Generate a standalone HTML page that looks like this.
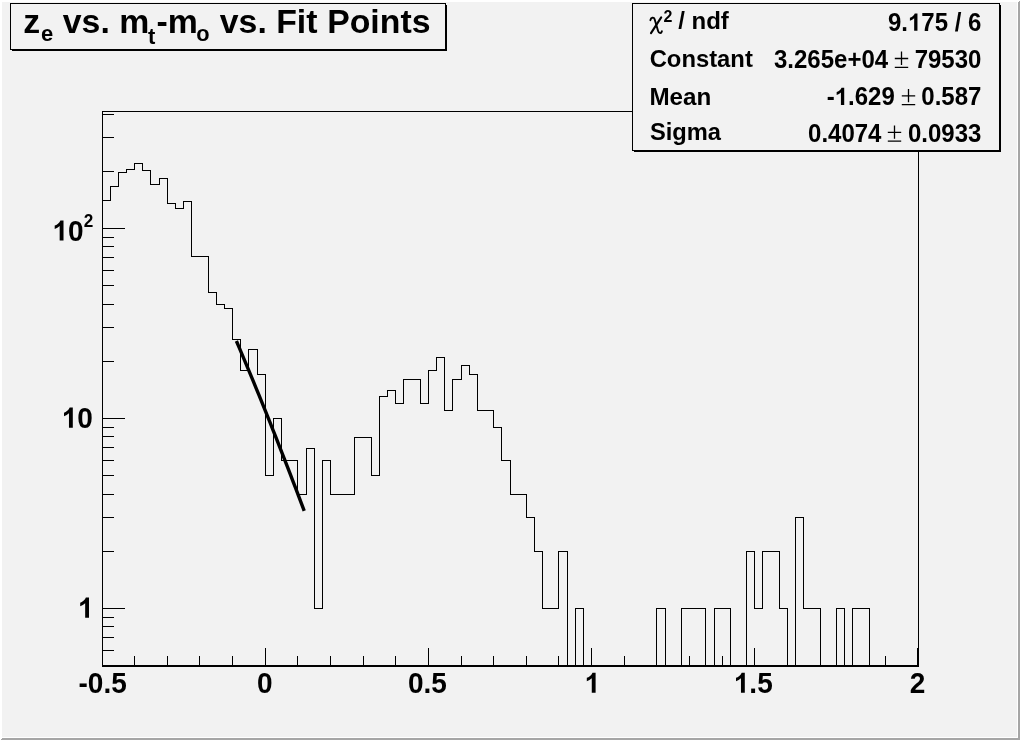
<!DOCTYPE html>
<html><head><meta charset="utf-8"><title>z_e vs. m_t-m_o vs. Fit Points</title>
<style>
html,body{margin:0;padding:0;background:#f2f2f2;overflow:hidden}
svg{display:block;will-change:transform}
text{font-family:"Liberation Sans",sans-serif;font-weight:bold;fill:#000}
</style></head><body>
<svg width="1020" height="740" viewBox="0 0 1020 740">
<rect x="0" y="0" width="1020" height="740" fill="#f2f2f2"/>
<g shape-rendering="crispEdges">
<rect x="0" y="0" width="1020" height="2" fill="#ffffff"/>
<rect x="0" y="0" width="2" height="740" fill="#ffffff"/>
<rect x="2" y="737" width="1016" height="1" fill="#ffffff"/>
<rect x="1017" y="2" width="1" height="736" fill="#ffffff"/>
<polygon points="0,740 2,738 1018,738 1018,2 1020,0 1020,740" fill="#a6a6a6"/>
</g>
<g shape-rendering="crispEdges" fill="none" stroke="#000" stroke-width="1">
<path d="M102.5 666V111.5H918.5V666"/>
<path d="M102 666H919" stroke-width="2"/>
<path d="M102 650.5H114M102 637.5H114M102 626.5H114M102 617.5H114M102 608.5H125M102 551.5H114M102 517.5H114M102 494.5H114M102 475.5H114M102 460.5H114M102 447.5H114M102 436.5H114M102 427.5H114M102 418.5H125M102 361.5H114M102 327.5H114M102 304.5H114M102 285.5H114M102 270.5H114M102 257.5H114M102 246.5H114M102 237.5H114M102 228.5H125M102 171.5H114M102 137.5H114M102 114.5H114M102.5 666V648M134.5 666V656M167.5 666V656M199.5 666V656M232.5 666V656M265.5 666V648M297.5 666V656M330.5 666V656M363.5 666V656M395.5 666V656M428.5 666V648M461.5 666V656M493.5 666V656M526.5 666V656M558.5 666V656M591.5 666V648M624.5 666V656M656.5 666V656M689.5 666V656M722.5 666V656M754.5 666V648M787.5 666V656M820.5 666V656M852.5 666V656M885.5 666V656M917.5 666V648"/>
<path d="M102.5 665.5L102.5 200.5L110.5 200.5L110.5 186.5L118.5 186.5L118.5 172.5L126.5 172.5L126.5 169.5L134.5 169.5L134.5 163.5L142.5 163.5L142.5 170.5L150.5 170.5L150.5 184.5L159.5 184.5L159.5 178.5L167.5 178.5L167.5 203.5L175.5 203.5L175.5 208.5L183.5 208.5L183.5 201.5L191.5 201.5L191.5 256.5L199.5 256.5L208.5 256.5L208.5 292.5L216.5 292.5L216.5 304.5L224.5 304.5L224.5 308.5L232.5 308.5L232.5 339.5L240.5 339.5L240.5 370.5L248.5 370.5L248.5 349.5L257.5 349.5L257.5 374.5L265.5 374.5L265.5 475.5L273.5 475.5L273.5 418.5L281.5 418.5L281.5 460.5L289.5 460.5L297.5 460.5L297.5 494.5L306.5 494.5L306.5 448.5L314.5 448.5L314.5 608.5L322.5 608.5L322.5 460.5L330.5 460.5L330.5 494.5L338.5 494.5L346.5 494.5L354.5 494.5L354.5 437.5L363.5 437.5L371.5 437.5L371.5 475.5L379.5 475.5L379.5 396.5L387.5 396.5L387.5 390.5L395.5 390.5L395.5 403.5L403.5 403.5L403.5 379.5L412.5 379.5L420.5 379.5L420.5 403.5L428.5 403.5L428.5 370.5L436.5 370.5L436.5 357.5L444.5 357.5L444.5 410.5L452.5 410.5L452.5 379.5L461.5 379.5L461.5 365.5L469.5 365.5L469.5 374.5L477.5 374.5L477.5 410.5L485.5 410.5L493.5 410.5L493.5 427.5L501.5 427.5L501.5 460.5L510.5 460.5L510.5 494.5L518.5 494.5L526.5 494.5L526.5 517.5L534.5 517.5L534.5 551.5L542.5 551.5L542.5 608.5L550.5 608.5L558.5 608.5L558.5 551.5L567.5 551.5L567.5 665.5L575.5 665.5L575.5 608.5L583.5 608.5L583.5 665.5L591.5 665.5L599.5 665.5L607.5 665.5L616.5 665.5L624.5 665.5L632.5 665.5L640.5 665.5L648.5 665.5L656.5 665.5L656.5 608.5L665.5 608.5L665.5 665.5L673.5 665.5L681.5 665.5L681.5 608.5L689.5 608.5L697.5 608.5L705.5 608.5L705.5 665.5L714.5 665.5L714.5 608.5L722.5 608.5L730.5 608.5L730.5 665.5L738.5 665.5L746.5 665.5L746.5 551.5L754.5 551.5L754.5 608.5L762.5 608.5L762.5 551.5L771.5 551.5L779.5 551.5L779.5 608.5L787.5 608.5L787.5 665.5L795.5 665.5L795.5 517.5L803.5 517.5L803.5 608.5L811.5 608.5L820.5 608.5L820.5 665.5L828.5 665.5L836.5 665.5L836.5 608.5L844.5 608.5L844.5 665.5L852.5 665.5L852.5 608.5L860.5 608.5L869.5 608.5L869.5 665.5L877.5 665.5L885.5 665.5L893.5 665.5L901.5 665.5L909.5 665.5L918.5 665.5"/>
</g>
<path d="M236.40 340.98L239.22 347.63L242.05 354.31L244.88 361.04L247.70 367.80L250.53 374.59L253.35 381.43L256.18 388.30L259.00 395.21L261.82 402.16L264.65 409.14L267.47 416.16L270.30 423.22L273.12 430.31L275.95 437.45L278.77 444.62L281.60 451.82L284.43 459.07L287.25 466.35L290.07 473.67L292.90 481.02L295.73 488.42L298.55 495.85L301.38 503.32L304.20 510.82" fill="none" stroke="#000" stroke-width="3.4"/>
<g shape-rendering="crispEdges">
<rect x="12" y="5" width="435" height="46" fill="#000"/>
<rect x="10.5" y="3.5" width="435" height="46" fill="#f2f2f2" stroke="#000" stroke-width="1"/>
<rect x="634" y="5" width="367" height="147" fill="#000"/>
<rect x="632.5" y="3.5" width="367" height="147" fill="#f2f2f2" stroke="#000" stroke-width="1"/>
</g>
<g fill="none" stroke="#000" stroke-linecap="round" stroke-linejoin="round">
<path d="M661.2 17.4L651 33.1" stroke-width="2.1"/>
<path d="M650.4 20.2C650.8 17.4 653.8 16.6 654.7 19.4L658.1 30.9C658.9 33.7 661.3 33.8 661.9 31.2" stroke-width="1.9"/>
</g>
<path d="M894.8 58.5h13.4M901.5 51.6v13.4M894.8 67.3h13.4M901.8 95.8h13.4M908.5 88.9v13.4M901.8 104.6h13.4M887.8 132.3h13.4M894.5 125.4v13.4M887.8 141.1h13.4" fill="none" stroke="#000" stroke-width="1.3"/>
<g fill="#000"><path transform="translate(584.59 692.80) scale(0.01367 -0.01367)" d="M806 0H525V1059Q371 915 162 846V1101Q272 1137 401 1237.5T578 1472H806Z"/><path transform="translate(733.79 692.80) scale(0.01367 -0.01367)" d="M806 0H525V1059Q371 915 162 846V1101Q272 1137 401 1237.5T578 1472H806Z"/><path transform="translate(52.49 240.60) scale(0.01367 -0.01367)" d="M806 0H525V1059Q371 915 162 846V1101Q272 1137 401 1237.5T578 1472H806Z"/><path transform="translate(61.79 427.70) scale(0.01367 -0.01367)" d="M806 0H525V1059Q371 915 162 846V1101Q272 1137 401 1237.5T578 1472H806Z"/><path transform="translate(77.99 617.70) scale(0.01367 -0.01367)" d="M806 0H525V1059Q371 915 162 846V1101Q272 1137 401 1237.5T578 1472H806Z"/><path transform="translate(908.01 30.70) scale(0.01172 -0.01172)" d="M806 0H525V1059Q371 915 162 846V1101Q272 1137 401 1237.5T578 1472H806Z"/><path transform="translate(834.77 105.00) scale(0.01172 -0.01172)" d="M806 0H525V1059Q371 915 162 846V1101Q272 1137 401 1237.5T578 1472H806Z"/></g>
<text transform="translate(78.51 692.80) scale(1 1.04)" font-size="28">-0.5</text>
<text transform="translate(256.89 692.80) scale(1 1.04)" font-size="28">0</text>
<text transform="translate(407.99 692.80) scale(1 1.04)" font-size="28">0.5</text>
<text transform="translate(749.36 692.80) scale(1 1.04)" font-size="28">.5</text>
<text transform="translate(909.73 692.80) scale(1 1.04)" font-size="28">2</text>
<text transform="translate(68.06 240.60) scale(1 1.04)" font-size="28">0</text>
<text transform="translate(83.70 227.40) scale(1 1.04)" font-size="17.2">2</text>
<text transform="translate(77.36 427.70) scale(1 1.04)" font-size="28">0</text>
<text x="23.20" y="33.00" font-size="33.8">z</text>
<text x="40.90" y="40.50" font-size="22">e</text>
<text x="62.80" y="33.00" font-size="33.8">vs.</text>
<text x="119.20" y="33.00" font-size="33.8">m</text>
<text x="148.00" y="44.00" font-size="22">t</text>
<text x="156.60" y="33.00" font-size="33.8">-m</text>
<text x="196.20" y="40.50" font-size="21.8">o</text>
<text x="219.80" y="33.00" font-size="33.8">vs.</text>
<text x="276.20" y="33.00" font-size="33.8">Fit</text>
<text x="327.20" y="33.00" font-size="33.8">Points</text>
<text transform="translate(663.45 21.70) scale(1 1.04)" font-size="16">2</text>
<text x="678.20" y="28.70" font-size="24">/ ndf</text>
<text x="649.70" y="67.40" font-size="23.8">Constant</text>
<text x="649.40" y="104.90" font-size="24.2">Mean</text>
<text x="649.90" y="140.00" font-size="23.7">Sigma</text>
<text transform="translate(887.99 30.70) scale(1 1.04)" font-size="24">9.</text>
<text transform="translate(921.35 30.70) scale(1 1.04)" font-size="24">75 / 6</text>
<text transform="translate(914.66 67.70) scale(1 1.04)" font-size="24">79530</text>
<text transform="translate(774.03 67.70) scale(1 1.04)" font-size="24">3.265e+04</text>
<text transform="translate(921.34 105.00) scale(1 1.04)" font-size="24">0.587</text>
<text transform="translate(826.78 105.00) scale(1 1.04)" font-size="24">-</text>
<text transform="translate(848.12 105.00) scale(1 1.04)" font-size="24">.629</text>
<text transform="translate(907.99 141.50) scale(1 1.04)" font-size="24">0.0933</text>
<text transform="translate(808.08 141.50) scale(1 1.04)" font-size="24">0.4074</text>
</svg>
</body></html>
